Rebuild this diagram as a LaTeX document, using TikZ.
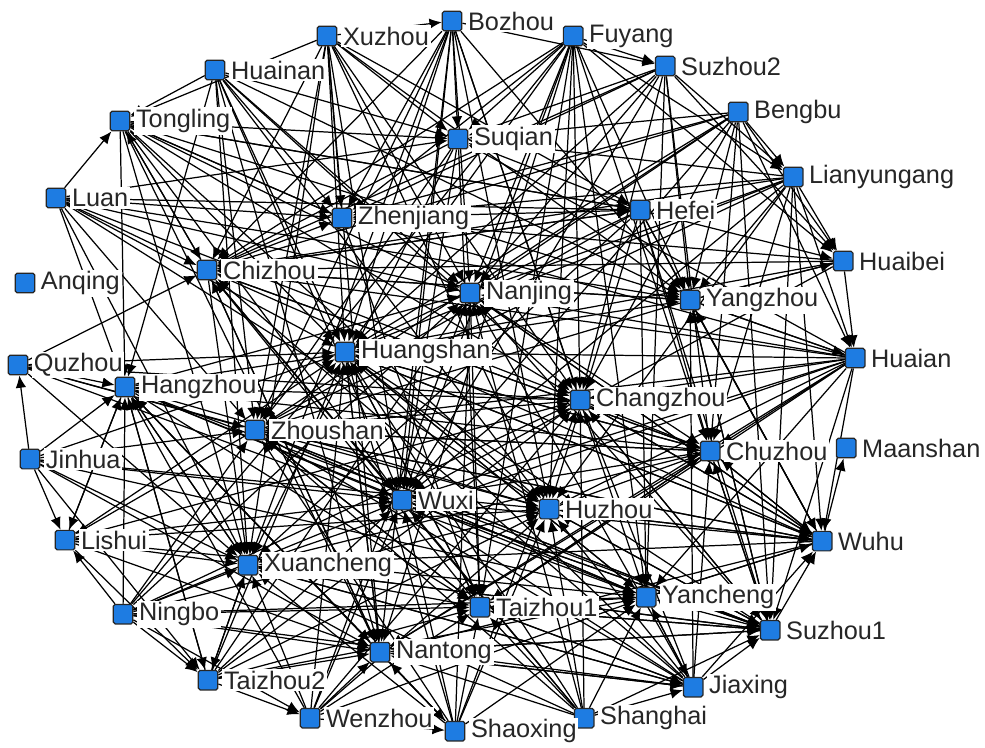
\documentclass[tikz,border=0pt]{standalone}
\usepackage{fontspec}
\setmainfont{Liberation Sans}
\usetikzlibrary{arrows.meta}
\usetikzlibrary{backgrounds}
\definecolor{cityblue}{RGB}{30,124,226}
\tikzset{city/.style={draw=black!85,fill=cityblue,rounded corners=1pt,line width=0.7pt,
  minimum size=0.39cm,inner sep=0pt},
  citylabel/.style={anchor=west,fill=white,inner sep=1pt,text=black!85,
  font=\fontsize{14.4}{16}\selectfont},
  link/.style={black,line width=0.7pt,-{Latex[length=7pt,width=6pt]}}}

\begin{document}
\begin{tikzpicture}
  \useasboundingbox (0,0) rectangle (19.7,-14.94);
  % cities
  \foreach \n/\x/\y/\t in {xuzhou/327/36/Xuzhou, bozhou/452/21/Bozhou, fuyang/573/36/Fuyang,
    suzhou2/665/66/Suzhou2, huainan/215/70/Huainan, bengbu/738/112/Bengbu,
    tongling/120/121/Tongling, suqian/458/139/Suqian, lianyungang/793/177/Lianyungang,
    luan/56/198/Luan, zhenjiang/342/218/Zhenjiang, hefei/640/210/Hefei,
    chizhou/207/270/Chizhou, huaibei/843/261/Huaibei, anqing/25/283/Anqing,
    nanjing/470/293/Nanjing, yangzhou/690/300/Yangzhou, huangshan/345/352/Huangshan,
    huaian/855/358/Huaian, quzhou/18/365/Quzhou, hangzhou/125/387/Hangzhou,
    changzhou/580/400/Changzhou, zhoushan/255/430/Zhoushan, chuzhou/710/451/Chuzhou,
    maanshan/846/448/Maanshan, jinhua/30/459/Jinhua, wuxi/402/500/Wuxi,
    huzhou/549/509/Huzhou, lishui/65/540/Lishui, wuhu/822/541/Wuhu,
    xuancheng/248/565/Xuancheng, yancheng/646/597/Yancheng, taizhou1/480/607/Taizhou1,
    ningbo/123/614/Ningbo, suzhou1/770/630/Suzhou1, nantong/380/652/Nantong,
    taizhou2/208/680/Taizhou2, jiaxing/693/687/Jiaxing, wenzhou/310/718/Wenzhou,
    shanghai/584/718/Shanghai, shaoxing/455/731/Shaoxing}{
    \node[city] (\n) at (\x*0.02,-\y*0.02) {};
    \node[citylabel] (\n-l) at ([xshift=2pt]\n.east) {\t};
  }

  % links, target / sources
  \begin{pgfonlayer}{background}
  \foreach \t/\ss in {
    huangshan/{bozhou,xuzhou,fuyang,suzhou2,bengbu,huainan,lianyungang,hefei,huaibei,huaian,wuhu,suzhou1,jiaxing,shanghai,shaoxing,wenzhou,taizhou2,ningbo,lishui,jinhua,quzhou,luan,tongling,yancheng,chuzhou,huzhou,taizhou1,nantong},
    zhoushan/{bozhou,xuzhou,suqian,fuyang,bengbu,lianyungang,hefei,huaian,chuzhou,wuhu,suzhou1,jiaxing,shanghai,shaoxing,yancheng,taizhou1,ningbo,jinhua,quzhou,luan,huainan,yangzhou,changzhou},
    wuxi/{bozhou,xuzhou,suqian,fuyang,suzhou2,huainan,bengbu,lianyungang,huaibei,huaian,chuzhou,wuhu,suzhou1,jiaxing,shanghai,shaoxing,wenzhou,taizhou2,ningbo,lishui,jinhua,hangzhou,chizhou,tongling},
    chizhou/{bozhou,xuzhou,fuyang,suzhou2,bengbu,suqian,hefei,lianyungang,huaian,huaibei,yangzhou,wuhu,chuzhou,jiaxing,shanghai,taizhou1,nantong,luan,tongling,quzhou},
    nanjing/{bozhou,xuzhou,fuyang,suzhou2,bengbu,huainan,lianyungang,huaian,wuhu,suzhou1,jiaxing,shanghai,shaoxing,wenzhou,taizhou2,ningbo,hangzhou,luan,tongling},
    changzhou/{bozhou,xuzhou,fuyang,suzhou2,bengbu,huainan,tongling,luan,quzhou,hangzhou,lishui,huaian,wuhu,suzhou1,jiaxing,shanghai,shaoxing,wenzhou,ningbo,taizhou2},
    huzhou/{bozhou,xuzhou,fuyang,hefei,huainan,tongling,luan,quzhou,hangzhou,jinhua,lishui,ningbo,taizhou2,wenzhou,shaoxing,shanghai,jiaxing,suzhou1,wuhu,huaian,lianyungang},
    yangzhou/{bozhou,fuyang,suzhou2,bengbu,huainan,xuzhou,tongling,luan,chizhou,hefei,lianyungang,huaibei,huaian,wuhu,suzhou1,jiaxing,hangzhou},
    yancheng/{fuyang,bozhou,hefei,suzhou2,huangshan,hangzhou,quzhou,jinhua,lishui,ningbo,wenzhou,shaoxing,shanghai,jiaxing,suzhou1,wuhu,huaian,zhoushan,taizhou2},
    xuancheng/{xuzhou,bozhou,huainan,tongling,luan,chizhou,quzhou,hangzhou,jinhua,lishui,ningbo,taizhou2,wenzhou,shaoxing,shanghai,jiaxing,suzhou1,wuhu,chuzhou,huaian,hefei,suqian},
    nantong/{bozhou,xuzhou,fuyang,huainan,tongling,chizhou,huangshan,hangzhou,jinhua,lishui,ningbo,taizhou2,wenzhou,shaoxing,shanghai,jiaxing,suzhou1,wuhu,huaian,chuzhou},
    suzhou1/{hefei,bengbu,lianyungang,huaian,chuzhou,huzhou,changzhou,yangzhou,wuxi,taizhou1,nantong,shanghai,jiaxing,xuancheng,hangzhou,zhoushan},
    chuzhou/{bengbu,suzhou2,lianyungang,huaian,wuhu,huangshan,zhoushan,hangzhou,chizhou,changzhou,nanjing,huzhou,taizhou1,jiaxing,suzhou1,hefei,fuyang},
    taizhou1/{suqian,nanjing,zhenjiang,huangshan,zhoushan,hangzhou,xuancheng,ningbo,taizhou2,wenzhou,shaoxing,shanghai,jiaxing,suzhou1,yancheng,huaian,chuzhou,fuyang},
    suqian/{bozhou,xuzhou,fuyang,suzhou2,bengbu,huainan,tongling,lianyungang,hefei,huaian,luan},
    zhenjiang/{bozhou,xuzhou,fuyang,huainan,tongling,luan,lianyungang,bengbu,hefei,suzhou2,huaibei,huaian,chizhou},
    hangzhou/{quzhou,jinhua,lishui,ningbo,taizhou2,wenzhou,tongling,luan,huainan,shaoxing,xuancheng,nantong},
    huaibei/{lianyungang,bengbu,suzhou2,hefei,yangzhou,fuyang},
    wuhu/{suzhou1,huaian,chuzhou,changzhou,huzhou,yangzhou,nanjing,zhoushan,huangshan,yancheng,jiaxing,hefei,lianyungang},
    tongling/{luan,huainan,chizhou,zhenjiang,xuzhou,hefei},
    lishui/{jinhua,ningbo,hangzhou,zhoushan},
    quzhou/{jinhua},
    taizhou2/{ningbo,lishui,jinhua,hangzhou,xuancheng},
    bozhou/{xuzhou},
    suzhou2/{fuyang,bozhou},
    lianyungang/{bengbu,fuyang,suzhou2},
    huaian/{huaibei,bengbu,lianyungang,yangzhou},
    hefei/{luan,xuzhou,tongling,chizhou},
    maanshan/{wuhu},
    wenzhou/{taizhou2,ningbo},
    shaoxing/{wenzhou,nantong},
    jiaxing/{shanghai,nantong,taizhou1,yancheng,xuancheng,ningbo}}{
    \foreach \s in \ss {
      \draw[link] (\s) -- (\t);
    }
  }
  \end{pgfonlayer}
\end{tikzpicture}
\end{document}
